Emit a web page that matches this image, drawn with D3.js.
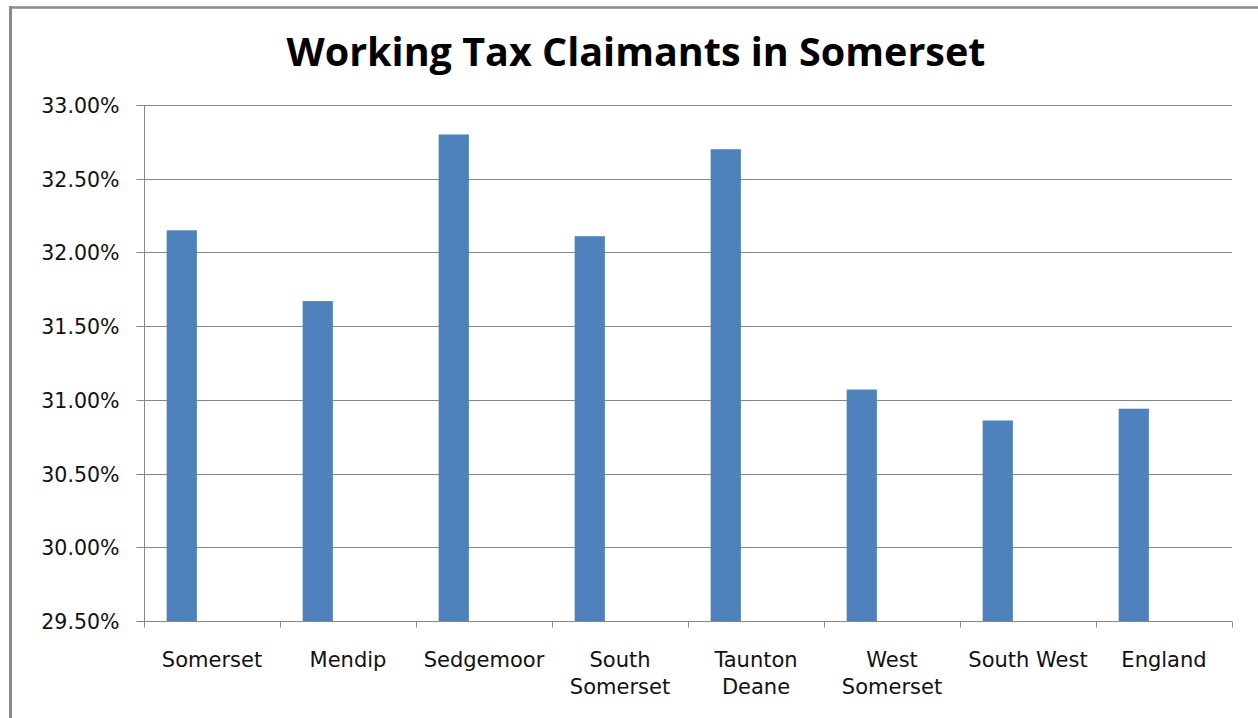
<!DOCTYPE html>
<html>
<head>
<meta charset="utf-8">
<script src="https://cdn.jsdelivr.net/npm/d3@7"></script>
<style>
  html, body { margin: 0; padding: 0; background: #ffffff; }
  svg { display: block; }
</style>
</head>
<body>
<svg id="chart" width="1258" height="718"></svg>
<script>
// Share of households claiming Working Tax Credit, by area (percent)
const categories = [
  ["Somerset"],
  ["Mendip"],
  ["Sedgemoor"],
  ["South", "Somerset"],
  ["Taunton", "Deane"],
  ["West", "Somerset"],
  ["South West"],
  ["England"]
];
const claimantShare = [32.15, 31.67, 32.80, 32.11, 32.70, 31.07, 30.86, 30.94];
const yTicks = [29.5, 30.0, 30.5, 31.0, 31.5, 32.0, 32.5, 33.0];
const chartTitle = "Working Tax Claimants in Somerset";

const svg = d3.select("#chart");
const W = 1258, H = 718;
const plot = { left: 144, right: 1232, top: 105, bottom: 621 };
const axisGrey = "#878787";
const barBlue = "#4f81bd";

// Outer frame: top and left edges
svg.append("line")
  .attr("x1", 9).attr("x2", W).attr("y1", 7.5).attr("y2", 7.5)
  .attr("stroke", "#8a8a8a").attr("stroke-width", 2.5);
svg.append("line")
  .attr("x1", 10.5).attr("x2", 10.5).attr("y1", 6).attr("y2", H)
  .attr("stroke", "#8a8a8a").attr("stroke-width", 3);

// Title
svg.append("text")
  .attr("x", 636).attr("y", 66)
  .attr("text-anchor", "middle")
  .attr("font-family", "'Open Sans', sans-serif")
  .attr("font-weight", 700)
  .attr("font-size", 39.5)
  .attr("fill", "#000")
  .text(chartTitle);

const keys = categories.map(c => c.join(" "));

const x = d3.scaleBand()
  .domain(keys)
  .range([plot.left, plot.right])
  .paddingInner(0).paddingOuter(0);

// Each category slot is laid out for a three-bar cluster; the single series sits in the first slot
const slot = d3.scaleBand()
  .domain([0, 1, 2])
  .range([0, x.bandwidth()])
  .paddingInner(0)
  .paddingOuter(0.75);

const y = d3.scaleLinear()
  .domain([29.5, 33.0])
  .range([plot.bottom, plot.top]);

// Horizontal gridlines
svg.append("g")
  .selectAll("line")
  .data(yTicks.filter(t => t > 29.5))
  .join("line")
  .attr("x1", plot.left).attr("x2", plot.right)
  .attr("y1", d => Math.round(y(d)) + 0.5)
  .attr("y2", d => Math.round(y(d)) + 0.5)
  .attr("stroke", axisGrey).attr("stroke-width", 1);

// Y axis
const yAxis = d3.axisLeft(y)
  .tickValues(yTicks)
  .tickSize(8)
  .tickPadding(17)
  .tickFormat(d => d.toFixed(2) + "%");

const gy = svg.append("g")
  .attr("transform", `translate(${plot.left + 0.5},0)`)
  .call(yAxis);
gy.select(".domain").attr("stroke", axisGrey).attr("d", `M0,${plot.top}V${plot.bottom}`);
gy.selectAll(".tick").attr("transform", d => `translate(0,${Math.round(y(d)) + 0.5})`);
gy.selectAll(".tick line").attr("stroke", axisGrey);
gy.selectAll(".tick text")
  .attr("font-family", "'DejaVu Sans', sans-serif")
  .attr("font-size", 20.5)
  .attr("fill", "#111")
  .attr("dy", "0.36em");

// Bars
svg.append("g")
  .selectAll("rect")
  .data(claimantShare)
  .join("rect")
  .attr("x", (d, i) => x(keys[i]) + slot(0))
  .attr("width", slot.bandwidth())
  .attr("y", d => y(d))
  .attr("height", d => y(29.5) - y(d))
  .attr("fill", barBlue);

// X axis line and category tick marks at band boundaries
const xAxisY = Math.round(y(29.5)) + 0.5;
svg.append("line")
  .attr("x1", plot.left).attr("x2", plot.right)
  .attr("y1", xAxisY).attr("y2", xAxisY)
  .attr("stroke", axisGrey).attr("stroke-width", 1);

const boundaries = keys.map(k => x(k)).concat([plot.right]);
svg.append("g")
  .selectAll("line")
  .data(boundaries)
  .join("line")
  .attr("x1", d => Math.round(d) + 0.5).attr("x2", d => Math.round(d) + 0.5)
  .attr("y1", xAxisY).attr("y2", xAxisY + 6)
  .attr("stroke", axisGrey).attr("stroke-width", 1);

// Category labels (wrapped onto up to two lines)
const labels = svg.append("g")
  .selectAll("text")
  .data(categories)
  .join("text")
  .attr("x", (d, i) => x(keys[i]) + x.bandwidth() / 2)
  .attr("y", 667)
  .attr("text-anchor", "middle")
  .attr("font-family", "'DejaVu Sans', sans-serif")
  .attr("font-size", 21)
  .attr("fill", "#111");

labels.each(function(lines, i) {
  const t = d3.select(this);
  const cx = x(keys[i]) + x.bandwidth() / 2;
  lines.forEach((ln, j) => {
    t.append("tspan")
      .attr("x", cx)
      .attr("dy", j === 0 ? 0 : 27)
      .text(ln);
  });
});
</script>
</body>
</html>
